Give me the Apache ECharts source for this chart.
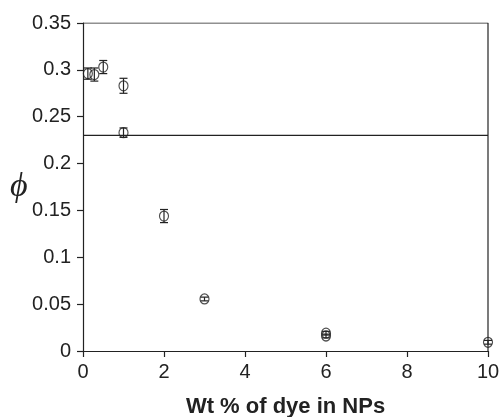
<!DOCTYPE html>
<html>
<head>
<meta charset="utf-8">
<script src="https://cdn.jsdelivr.net/npm/echarts@6/dist/echarts.min.js"></script>
<style>
  html, body { margin: 0; padding: 0; background: #fff; }
</style>
</head>
<body>
<div id="chart" style="width: 500px; height: 417px;"></div>
<script>
// wt % of dye, quantum yield, error (+/-)
const wtPercent = [0.12, 0.28, 0.5, 1.0, 1.0, 2.0, 3.0, 6.0, 6.0, 10.0]
const phiValues = [0.296, 0.295, 0.303, 0.283, 0.233, 0.144, 0.0555, 0.019, 0.016, 0.0093]
const phiErrors = [0.006, 0.007, 0.007, 0.008, 0.005, 0.007, 0.002, 0.002, 0.002, 0.002]
const refLine = 0.23
const xTicks = [0, 2, 4, 6, 8, 10]
const yTicks = [0, 0.05, 0.1, 0.15, 0.2, 0.25, 0.3, 0.35]

const chart = echarts.init(document.getElementById('chart'))

const points = wtPercent.map((x, i) => [x, phiValues[i]])
const bars = wtPercent.map((x, i) => [x, phiValues[i] - phiErrors[i], phiValues[i] + phiErrors[i]])

const axisStyle = { color: '#222', width: 1.2 }

const option = {
  animation: false,
  backgroundColor: '#fff',
  grid: { left: 83, right: 12, top: 23, bottom: 66, containLabel: false, outerBoundsMode: 'none' },
  xAxis: {
    type: 'value',
    min: 0,
    max: 10,
    interval: 2,
    name: 'Wt % of dye in NPs',
    nameLocation: 'middle',
    nameGap: 45,
    nameTextStyle: { fontFamily: 'Liberation Sans', fontWeight: 'bold', fontSize: 22, color: '#222' },
    axisLine: { show: true, lineStyle: axisStyle },
    axisTick: { show: true, length: 6, lineStyle: axisStyle },
    axisLabel: { fontFamily: 'Liberation Sans', fontSize: 20, color: '#222', margin: 11,
      formatter: v => xTicks.includes(v) ? String(v) : '' },
    splitLine: { show: false }
  },
  yAxis: {
    type: 'value',
    min: 0,
    max: 0.35,
    interval: 0.05,
    axisLine: { show: true, lineStyle: axisStyle },
    axisTick: { show: true, length: 6, lineStyle: axisStyle },
    axisLabel: { fontFamily: 'Liberation Sans', fontSize: 20, color: '#222', margin: 12,
      formatter: v => {
        const t = yTicks.find(y => Math.abs(y - v) < 1e-9)
        return t === undefined ? '' : String(+t.toFixed(2))
      } },
    splitLine: { show: false }
  },
  graphic: [
    {
      type: 'text',
      left: 10,
      top: 170,
      style: { text: 'ϕ', font: 'italic 34px "Liberation Serif"', fill: '#222' }
    }
  ],
  series: [
    {
      // frame top/right
      type: 'line',
      data: [[0, 0.35], [10, 0.35], [10, 0]],
      symbol: 'none',
      lineStyle: { color: '#222', width: 1.2 },
      silent: true,
      z: 1
    },
    {
      type: 'line',
      data: [[0, refLine], [10, refLine]],
      symbol: 'none',
      lineStyle: { color: '#222', width: 1.2 },
      silent: true,
      z: 1
    },
    {
      type: 'custom',
      data: bars,
      renderItem: function (params, api) {
        const x = api.value(0)
        const lo = api.coord([x, api.value(1)])
        const hi = api.coord([x, api.value(2)])
        const cap = 4
        const style = { stroke: '#222', lineWidth: 1.2 }
        return {
          type: 'group',
          children: [
            { type: 'line', shape: { x1: lo[0], y1: lo[1], x2: hi[0], y2: hi[1] }, style },
            { type: 'line', shape: { x1: lo[0] - cap, y1: lo[1], x2: lo[0] + cap, y2: lo[1] }, style },
            { type: 'line', shape: { x1: hi[0] - cap, y1: hi[1], x2: hi[0] + cap, y2: hi[1] }, style }
          ]
        }
      },
      z: 2
    },
    {
      type: 'scatter',
      data: points,
      symbol: 'circle',
      symbolSize: [9, 10],
      itemStyle: { color: 'transparent', borderColor: '#222', borderWidth: 1.2 },
      z: 3
    }
  ]
}

chart.setOption(option)
</script>
</body>
</html>
